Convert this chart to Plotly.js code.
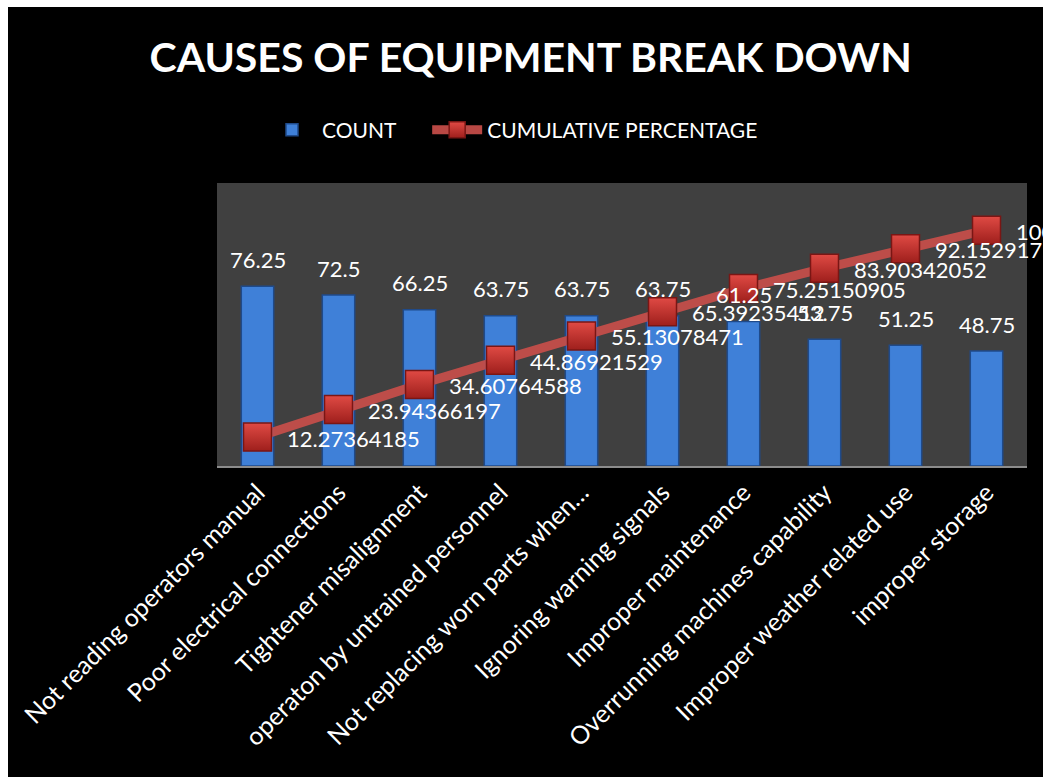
<!DOCTYPE html>
<html>
<head>
<meta charset="utf-8">
<script src="https://cdn.plot.ly/plotly-3.0.1.min.js"></script>
<style>
html,body{margin:0;padding:0;background:#ffffff;width:1043px;height:777px;overflow:hidden;}
#chart{position:absolute;left:8px;top:7px;width:1035px;height:770px;background:#000;}
</style>
</head>
<body>
<div id="chart"></div>
<script>
const categories = [
  "Not reading operators manual",
  "Poor electrical connections",
  "Tightener misalignment",
  "operaton by untrained personnel",
  "Not replacing worn parts when…",
  "Ignoring warning signals",
  "Improper maintenance",
  "Overrunning machines capability",
  "Improper weather related use",
  "improper storage"
];
const countValues = [76.25, 72.5, 66.25, 63.75, 63.75, 63.75, 61.25, 53.75, 51.25, 48.75];
const cumulativePercentage = [12.27364185, 23.94366197, 34.60764588, 44.86921529, 55.13078471,
  65.39235412, 75.25150905, 83.90342052, 92.15291751, 100];
const countLabels = ["76.25", "72.5", "66.25", "63.75", "63.75", "63.75", "61.25", "53.75", "51.25", "48.75"];
const cumulativeLabels = ["12.27364185", "23.94366197", "34.60764588", "44.86921529", "55.13078471",
  "65.39235412", "75.25150905", "83.90342052", "92.15291751", "100"];

const FONT = "Lato, 'Open Sans', sans-serif";

const barTrace = {
  type: "bar",
  name: "COUNT",
  legend: "legend",
  x: categories,
  y: countValues,
  marker: {color: "#3f80d8", line: {color: "#1f4a8a", width: 1.5}},
  hoverinfo: "x+y"
};
const lineTrace = {
  type: "scatter",
  mode: "lines+markers",
  name: "CUMULATIVE PERCENTAGE",
  legend: "legend2",
  x: categories,
  y: cumulativePercentage,
  yaxis: "y2",
  line: {color: "rgba(200,78,74,0.92)", width: 9},
  marker: {
    symbol: "square",
    size: 28,
    color: "#e04a44",
    gradient: {type: "vertical", color: "#9e1f1c"},
    line: {color: "#7a1614", width: 1.5}
  },
  hoverinfo: "x+y"
};

const annotations = [];
categories.forEach((c, i) => {
  annotations.push({
    x: c, y: countValues[i], xref: "x", yref: "y",
    text: countLabels[i], showarrow: false,
    xanchor: "center", yanchor: "middle", yshift: 27,
    font: {family: FONT, size: 22, color: "#ffffff"}
  });
  annotations.push({
    x: c, y: cumulativePercentage[i], xref: "x", yref: "y2",
    text: cumulativeLabels[i], showarrow: false,
    xanchor: "left", yanchor: "middle", xshift: 27, yshift: -1,
    font: {family: FONT, size: 22, color: "#ffffff"}
  });
});

const legendBase = {
  orientation: "h",
  xref: "container", yref: "container",
  xanchor: "left",
  y: 0.84, yanchor: "middle",
  font: {family: FONT, size: 21, color: "#ffffff"},
  bgcolor: "rgba(0,0,0,0)",
  itemwidth: 50
};

const layout = {
  width: 1035,
  height: 770,
  paper_bgcolor: "#000000",
  plot_bgcolor: "#404040",
  margin: {l: 209, r: 16, t: 176, b: 311},
  title: {
    text: "<b>CAUSES OF EQUIPMENT BREAK DOWN</b>",
    font: {family: FONT, size: 41, color: "#ffffff"},
    x: 0.505, xanchor: "center",
    y: 0.934, yanchor: "middle"
  },
  showlegend: true,
  legend: Object.assign({}, legendBase, {x: 0.2454}),
  legend2: Object.assign({}, legendBase, {x: 0.405}),
  bargap: 0.6,
  xaxis: {
    type: "category",
    range: [-0.5, 9.5],
    tickangle: -45,
    tickfont: {family: FONT, size: 25, color: "#ffffff"},
    showline: true,
    linecolor: "#8c8c8c",
    linewidth: 2,
    ticks: "",
    showgrid: false,
    zeroline: false
  },
  yaxis: {
    range: [0, 120],
    showticklabels: false,
    showgrid: false,
    zeroline: false,
    showline: false,
    ticks: ""
  },
  yaxis2: {
    range: [0, 120],
    overlaying: "y",
    side: "right",
    showticklabels: false,
    showgrid: false,
    zeroline: false,
    showline: false,
    ticks: ""
  },
  annotations: annotations
};

Plotly.newPlot("chart", [barTrace, lineTrace], layout, {displayModeBar: false, responsive: false});
</script>
</body>
</html>
